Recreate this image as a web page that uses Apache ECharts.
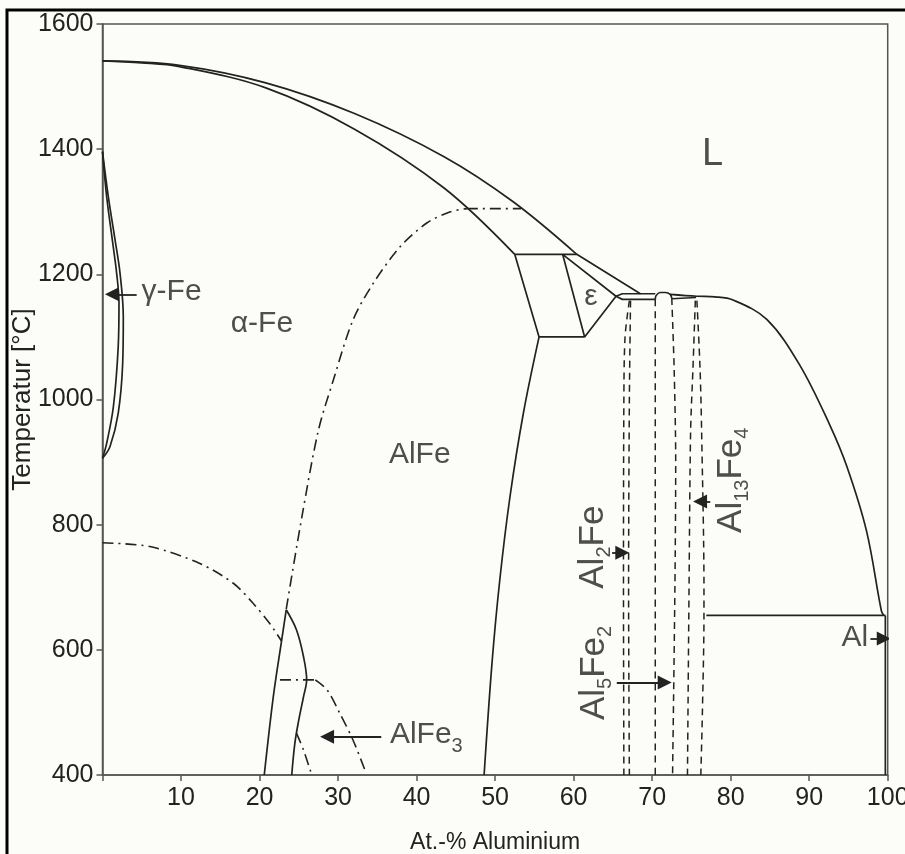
<!DOCTYPE html>
<html><head><meta charset="utf-8">
<script src="https://cdn.jsdelivr.net/npm/echarts@6/dist/echarts.min.js"></script>
<style>html,body{margin:0;padding:0;background:#fcfcf8}#c{width:905px;height:854px}</style>
</head><body><div id="c"></div>
<script>
// ---------- axes ----------
const xTicks = [0,10,20,30,40,50,60,70,80,90,100];
const yTicks = [400,600,800,1000,1200,1400,1600];
const xTitle = 'At.-% Aluminium';
const yTitle = 'Temperatur [°C]';

// ---------- solid phase boundaries [at.-% Al, °C] ----------
const liquidusFe   = [[0,1541],[9.8,1534],[20.8,1506],[32.1,1457],[43.5,1388],[52.3,1316],[60.4,1232]];
const liquidusMid  = [[60.4,1232],[68.5,1169],[70.4,1169]];
const liquidusAl   = [[72.3,1168],[75.7,1165],[78.0,1164],[80.3,1159],[84.6,1128],[88.8,1055],[92.6,960],[94.8,893],[97.3,790],[99.2,662],[99.5,655]];
const solidusFe    = [[0,1541],[5,1538],[9.8,1532],[20.8,1498],[32.1,1432],[43.5,1338],[52.5,1232]];
const boxTop       = [[52.5,1232],[60.4,1232]];
const boxLeft      = [[52.5,1232],[55.6,1100],[61.4,1100]];
const epsilonTri   = [[58.6,1232],[61.4,1100],[65.4,1165],[58.6,1232]];
const epsUpper     = [[65.4,1165],[66.2,1169],[68.5,1169]];
const epsLower     = [[65.4,1165],[66.2,1160],[70.4,1160]];
const al5fe2Dome   = [[70.4,1160],[70.5,1166],[71.0,1171],[71.7,1171],[72.3,1168],[72.5,1162]];
const peritecticAl = [[72.5,1161],[75.6,1163]];
const alfeBoundary = [[55.6,1100],[53.6,978],[51.9,845],[50.6,712],[49.6,578],[48.6,400]];
const eutectic     = [[76.9,655],[99.7,655]];
const alSolvus     = [[99.7,655],[99.7,400]];
const gammaOuter   = [[0,1396],[0.74,1324],[1.6,1255],[2.23,1202],[2.65,1132],[2.57,1058],[2.0,978],[0.96,925],[0,906]];
const gammaInner   = [[0,1396],[0.53,1324],[1.25,1255],[1.8,1202],[2.1,1154],[2.0,1084],[1.38,988],[0.53,930],[0,906]];
const alfe3Left    = [[20.6,400],[21.75,525],[22.8,614],[23.4,664]];
const alfe3Right   = [[23.4,664],[24.7,632],[25.6,589],[26.0,552],[25.6,525],[25.0,488],[24.5,451],[24.1,400]];

// ---------- dashed boundaries of the Al-rich intermetallics ----------
const al2feLeft    = [[67.1,1158],[66.55,1100],[66.4,1000],[66.35,700],[66.4,400]];
const al2feRight   = [[67.25,1158],[67.1,1000],[67.0,700],[67.1,400]];
const al5fe2Left   = [[70.4,1160],[70.4,400]];
const al5fe2Right  = [[72.5,1162],[72.8,1050],[73.0,900],[72.9,700],[72.6,400]];
const al13fe4Left  = [[75.5,1158],[75.2,1050],[74.9,950],[74.7,700],[74.5,400]];
const al13fe4Right = [[75.7,1158],[76.1,1050],[76.3,950],[76.6,700],[76.6,655],[76.4,500],[76.2,400]];

// ---------- dash-dot ordering lines ----------
const orderFe      = [[0,771],[6.05,765],[12.4,738],[16.7,706],[19.2,674],[21.3,642],[22.8,614]];
const b2Line       = [[23.4,665],[25.4,813],[27.5,951],[29.4,1031],[31.9,1127],[34.5,1186],[37.9,1244],[41.3,1282],[44.3,1300],[46.4,1305]];
const b2Flat       = [[46.4,1305],[53.3,1305]];
const d03Flat      = [[22.6,552],[27.1,552]];
const d03Curve     = [[27.1,552],[28.6,536],[30.2,499],[31.9,456],[33.6,402]];
const d03Small     = [[24.7,467],[25.6,440],[26.6,402]];

// ---------- labels and arrows ----------
const labelTexts   = ['L','α-Fe','γ-Fe','AlFe','ε','AlFe{s|3}','Al{s|2}Fe','Al{s|5}Fe{s|2}','Al{s|13}Fe{s|4}','Al'];
const labelAnchors = [[77.7,1391],[20.3,1121],[8.8,1172],[40.4,911],[62.2,1165],[36.6,464],[62.5,764],[62.6,563],[80.1,871],[95.8,620]];
const labelRotate  = [0,0,0,0,0,0,90,90,90,0];
const arrows = [
  [[4.35,1168],[1.2,1168]],
  [[35.5,461],[28.6,461]],
  [[64.9,755],[66.2,755]],
  [[65.5,548],[71.6,548]],
  [[77.4,837],[76.1,837]],
  [[97.8,618],[99.5,618]]
];

const INK = '#222';
const FONT = "'Liberation Sans', Arial, sans-serif";

function solid(data, smooth) {
  return {type:'line', data, showSymbol:false, symbol:'none', smooth: smooth ? 0.35 : false,
    lineStyle:{color:INK, width:1.7}, silent:true, z:3};
}
function dashed(data) {
  return {type:'line', data, showSymbol:false, symbol:'none', smooth:0.3,
    lineStyle:{color:INK, width:1.5, type:[7,5]}, silent:true, z:3};
}
function dashDot(data, smooth) {
  return {type:'line', data, showSymbol:false, symbol:'none', smooth: smooth ? 0.3 : false,
    lineStyle:{color:INK, width:1.6, type:[11,5,2,5]}, silent:true, z:3};
}

const series = [
  solid(liquidusFe,true), solid(liquidusMid,false), solid(liquidusAl,true), solid(solidusFe,true),
  solid(boxTop,false), solid(boxLeft,false), solid(epsilonTri,false), solid(epsUpper,false), solid(epsLower,false),
  solid(al5fe2Dome,true), solid(peritecticAl,false), solid(alfeBoundary,true), solid(eutectic,false), solid(alSolvus,false),
  solid(gammaOuter,true), solid(gammaInner,true), solid(alfe3Left,true), solid(alfe3Right,true),
  dashed(al2feLeft), dashed(al2feRight), dashed(al5fe2Left), dashed(al5fe2Right), dashed(al13fe4Left), dashed(al13fe4Right),
  dashDot(orderFe,true), dashDot(b2Line,true), dashDot(b2Flat,false), dashDot(d03Flat,false), dashDot(d03Curve,true), dashDot(d03Small,true),
  {type:'lines', coordinateSystem:'cartesian2d', symbol:['none','triangle'], symbolSize:14, silent:true, z:4,
   lineStyle:{color:INK, width:1.8, opacity:1, curveness:0},
   data: arrows.map(a => ({coords:a}))},
  {type:'scatter', symbolSize:0, silent:true, z:5,
   data: labelAnchors.map((p,i) => ({
     value:p,
     label:{show:true, position:'inside', rotate:labelRotate[i],
       align: labelTexts[i]==='AlFe{s|3}' ? 'left' : 'center',
       formatter: labelTexts[i],
       fontSize: labelTexts[i]==='L' ? 38 : (labelRotate[i] ? 35 : 30)}
   })),
   label:{show:true, color:INK, fontFamily:FONT, fontSize:30,
     rich:{s:{fontSize:20, fontFamily:FONT, color:INK, padding:[23,0,0,0]}}}}
];

const chart = echarts.init(document.getElementById('c'), null, {renderer:'canvas'});
chart.setOption({
  animation:false,
  backgroundColor:'#fcfcf8',
  grid:{left:102.5, right:17.3, top:24, bottom:79, containLabel:false, outerBoundsMode:'none',
    show:true, borderColor:'#555', borderWidth:1.5, backgroundColor:'transparent'},
  xAxis:{type:'value', min:xTicks[0], max:xTicks[xTicks.length-1], interval:xTicks[1]-xTicks[0],
    name:xTitle, nameLocation:'middle', nameGap:56, nameMoveOverlap:false,
    nameTextStyle:{fontFamily:FONT, fontSize:23, color:INK},
    axisLine:{lineStyle:{color:'#555', width:1.5}},
    axisTick:{length:6, lineStyle:{color:'#555', width:1.5}},
    axisLabel:{fontFamily:FONT, fontSize:25, color:INK, margin:11, hideOverlap:false,
      formatter:v => v===0 ? '' : String(v)},
    splitLine:{show:false}},
  yAxis:{type:'value', min:yTicks[0], max:yTicks[yTicks.length-1], interval:yTicks[1]-yTicks[0],
    name:yTitle, nameLocation:'middle', nameGap:67, nameMoveOverlap:false,
    nameTextStyle:{fontFamily:FONT, fontSize:26, color:INK},
    axisLine:{lineStyle:{color:'#555', width:1.5}},
    axisTick:{length:6, lineStyle:{color:'#555', width:1.5}},
    axisLabel:{fontFamily:FONT, fontSize:25, color:INK, margin:9, formatter:v => String(v)},
    splitLine:{show:false}},
  graphic:[{type:'rect', shape:{x:7,y:10,width:910,height:870}, style:{fill:'none', stroke:'#000', lineWidth:3}, silent:true, z:10}],
  series
});
</script></body></html>
